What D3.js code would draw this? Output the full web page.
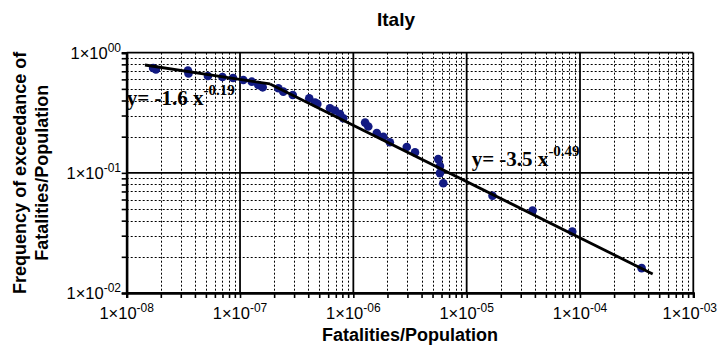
<!DOCTYPE html>
<html><head><meta charset="utf-8">
<script src="https://cdn.jsdelivr.net/npm/d3@7/dist/d3.min.js"></script>
<style>body{margin:0;background:#fff}svg{display:block}</style>
</head><body>
<svg id="c" width="719" height="349"></svg>
<script>
// ---- data ----
const chartTitle = "Italy";
const xAxisTitle = "Fatalities/Population";
const yAxisTitleLines = ["Frequency of exceedance of", "Fatalities/Population"];
const xTickExps = [-8, -7, -6, -5, -4, -3];
const xTickSup = ["-08", "-07", "-06", "-05", "-04", "-03"];
const yTickExps = [0, -1, -2];
const yTickSup = ["00", "-01", "-02"];

const pointsX = [1.71e-8, 1.81e-8, 3.47e-8, 3.51e-8, 5.21e-8, 7.0e-8, 8.67e-8, 1.07e-7, 1.27e-7,
  1.45e-7, 1.585e-7, 2.18e-7, 2.41e-7, 2.92e-7, 4.08e-7, 4.59e-7, 4.81e-7, 6.22e-7, 6.89e-7,
  7.62e-7, 8.15e-7, 1.27e-6, 1.355e-6, 1.61e-6, 1.84e-6, 2.10e-6, 2.96e-6, 3.50e-6, 5.61e-6,
  5.81e-6, 5.81e-6, 6.22e-6, 1.69e-5, 3.82e-5, 8.55e-5, 3.50e-4];
const pointsY = [0.746, 0.725, 0.711, 0.671, 0.640, 0.628, 0.616, 0.593, 0.574,
  0.539, 0.515, 0.506, 0.474, 0.445, 0.418, 0.384, 0.375, 0.345, 0.330,
  0.309, 0.285, 0.262, 0.243, 0.214, 0.200, 0.180, 0.164, 0.148, 0.130,
  0.114, 0.0995, 0.082, 0.0644, 0.0486, 0.0325, 0.0161];

const fit1X = [1.45e-8, 1.84e-7], fit1Y = [0.79, 0.549];
const fit2X = [1.84e-7, 4.38e-4], fit2Y = [0.549, 0.0144];
const eqBase = ["y= -1.6 x", "y= -3.5 x"];
const eqExp = ["-0.19", "-0.49"];
const eqAtX = [1.0e-8, 1.107e-5];
const eqAtY = [0.368, 0.113];

// ---- layout ----
const L = 126.7, R = 693.3, T = 52.7, B = 293;
const svg = d3.select("#c");
const x = d3.scaleLog().domain([1e-8, 1e-3]).range([L, R]);
const y = d3.scaleLog().domain([1e-2, 1]).range([B, T]);

const g = svg.append("g");

// minor grid
const minorX = [], minorY = [];
for (let d = -8; d < -3; d++) for (let k = 2; k <= 9; k++) minorX.push(k * Math.pow(10, d));
for (let d = -2; d < 0; d++) for (let k = 2; k <= 9; k++) minorY.push(k * Math.pow(10, d));
g.selectAll(".mx").data(minorX).join("line")
  .attr("x1", d => Math.round(x(d)) + 0.5).attr("x2", d => Math.round(x(d)) + 0.5).attr("y1", T).attr("y2", B)
  .attr("stroke", "#000").attr("stroke-width", 1).attr("stroke-dasharray", "2,2");
g.selectAll(".my").data(minorY).join("line")
  .attr("y1", d => Math.round(y(d)) + 0.5).attr("y2", d => Math.round(y(d)) + 0.5).attr("x1", L).attr("x2", R)
  .attr("stroke", "#000").attr("stroke-width", 1).attr("stroke-dasharray", "2,2");
// major grid
g.selectAll(".Mx").data(xTickExps).join("line")
  .attr("x1", d => x(Math.pow(10, d))).attr("x2", d => x(Math.pow(10, d))).attr("y1", T).attr("y2", B)
  .attr("stroke", "#000").attr("stroke-width", 1.8);
g.selectAll(".My").data(yTickExps).join("line")
  .attr("y1", d => y(Math.pow(10, d))).attr("y2", d => y(Math.pow(10, d))).attr("x1", L).attr("x2", R)
  .attr("stroke", "#000").attr("stroke-width", 1.8);

// axes with ticks
const xAx = d3.axisBottom(x).tickValues(minorX.concat(xTickExps.map(e => Math.pow(10, e))))
  .tickSize(5).tickFormat("");
const yAx = d3.axisLeft(y).tickValues(minorY.concat(yTickExps.map(e => Math.pow(10, e))))
  .tickSize(5).tickFormat("");
const gx = svg.append("g").attr("transform", `translate(0,${B})`).call(xAx);
const gy = svg.append("g").attr("transform", `translate(${L},0)`).call(yAx);
[gx, gy].forEach(a => {
  a.select(".domain").attr("stroke", "#000").attr("stroke-width", 2.4);
  a.selectAll(".tick line").attr("stroke", "#000").attr("stroke-width", 1.6);
});

// x tick labels
const nX = xTickExps.length;
const xl = svg.append("g").selectAll("text").data(xTickExps).join("text")
  .attr("x", (d, i) => i === nX - 1 ? 717 : x(Math.pow(10, d))).attr("y", 319)
  .attr("text-anchor", (d, i) => i === nX - 1 ? "end" : "middle")
  .attr("font-family", "Liberation Sans, Arial, sans-serif")
  .attr("font-size", 16.5).attr("fill", "#000");
xl.append("tspan").text("1\u00d710");
xl.append("tspan").attr("dy", -7).attr("font-size", 12).text((d, i) => xTickSup[i]);

// y tick labels
const yl = svg.append("g").selectAll("text").data(yTickExps).join("text")
  .attr("x", 121).attr("y", d => y(Math.pow(10, d)) + 6)
  .attr("text-anchor", "end").attr("font-family", "Liberation Sans, Arial, sans-serif")
  .attr("font-size", 16.5).attr("fill", "#000");
yl.append("tspan").text("1\u00d710");
yl.append("tspan").attr("dy", -7).attr("font-size", 12).text((d, i) => yTickSup[i]);

// points
const pts = pointsX.map((v, i) => [v, pointsY[i]]);
svg.append("g").selectAll("circle").data(pts).join("circle")
  .attr("cx", d => x(d[0])).attr("cy", d => y(d[1])).attr("r", 4.3)
  .attr("fill", "#121a82");

// fit lines
const line = d3.line().x(d => x(d[0])).y(d => y(d[1]));
[[fit1X, fit1Y], [fit2X, fit2Y]].forEach(([fx, fy]) => {
  svg.append("path").datum(fx.map((v, i) => [v, fy[i]])).attr("d", line)
    .attr("fill", "none").attr("stroke", "#000").attr("stroke-width", 2.8)
    .attr("stroke-linejoin", "round");
});

// equations
eqBase.forEach((t, i) => {
  const tx = svg.append("text").attr("x", x(eqAtX[i])).attr("y", y(eqAtY[i]))
    .attr("font-family", "Liberation Serif, Times New Roman, serif").attr("font-weight", "bold")
    .attr("font-size", 21).attr("fill", "#000");
  tx.append("tspan").text(t);
  tx.append("tspan").attr("dy", -10).attr("font-size", 15).text(eqExp[i]);
});

// titles
svg.append("text").attr("x", 396).attr("y", 26).attr("text-anchor", "middle")
  .attr("font-family", "Liberation Sans, Arial, sans-serif").attr("font-weight", "bold")
  .attr("font-size", 19).text(chartTitle);
svg.append("text").attr("x", (L + R) / 2).attr("y", 341).attr("text-anchor", "middle")
  .attr("font-family", "Liberation Sans, Arial, sans-serif").attr("font-weight", "bold")
  .attr("font-size", 18).text(xAxisTitle);
yAxisTitleLines.forEach((t, i) => {
  svg.append("text").attr("transform", `translate(${26 + i * 22},${(T + B) / 2}) rotate(-90)`)
    .attr("text-anchor", "middle").attr("font-family", "Liberation Sans, Arial, sans-serif")
    .attr("font-weight", "bold").attr("font-size", 18).text(t);
});
</script>
</body></html>
